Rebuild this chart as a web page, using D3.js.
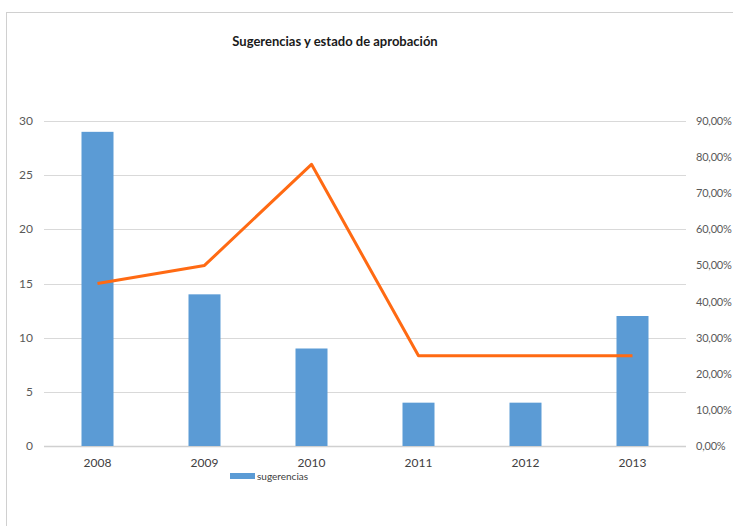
<!DOCTYPE html>
<html>
<head>
<meta charset="utf-8">
<script src="https://cdn.jsdelivr.net/npm/d3@7"></script>
<style>
  body { margin: 0; background: #fff; }
  svg { display: block; font-family: Lato, "Open Sans", sans-serif; }
</style>
</head>
<body>
<svg id="chart" width="733" height="526"></svg>
<script>
// Data
const years = ["2008", "2009", "2010", "2011", "2012", "2013"];
const sugerencias = [29, 14, 9, 4, 4, 12];
const aprobacion = [0.45, 0.50, 0.78, 0.25, 0.25, 0.25];
const leftTicks = [0, 5, 10, 15, 20, 25, 30];
const rightTicks = [0, 0.1, 0.2, 0.3, 0.4, 0.5, 0.6, 0.7, 0.8, 0.9];

const svg = d3.select("#chart");

// outer chart frame (runs off the right/bottom edges)
svg.append("rect")
  .attr("x", 6.5).attr("y", 12.5)
  .attr("width", 740).attr("height", 540)
  .attr("fill", "none")
  .attr("stroke", "#d0d0d0");

const plotLeft = 44, plotRight = 686, plotTop = 121, plotBottom = 446;

const x = d3.scaleBand().domain(years).range([plotLeft, plotRight]);
const yL = d3.scaleLinear().domain([0, 30]).range([plotBottom, plotTop]);
const yR = d3.scaleLinear().domain([0, 0.9]).range([plotBottom, plotTop]);

// gridlines
svg.append("g")
  .selectAll("line")
  .data(leftTicks)
  .join("line")
  .attr("x1", plotLeft).attr("x2", plotRight)
  .attr("y1", d => Math.round(yL(d)) + 0.5)
  .attr("y2", d => Math.round(yL(d)) + 0.5)
  .attr("stroke", d => d === 0 ? "#d0d0d0" : "#d9d9d9")
  .attr("stroke-width", d => d === 0 ? 1.5 : 1);

// left axis labels
svg.append("g")
  .selectAll("text")
  .data(leftTicks)
  .join("text")
  .attr("x", 33)
  .attr("y", d => yL(d) + 4)
  .attr("text-anchor", "end")
  .attr("font-size", 12)
  .attr("fill", "#595959")
  .text(d => d);

// right axis labels (kept just inside the window edge)
const pct = d => d3.format(".2f")(d * 100).replace(".", ",") + "%";
svg.append("g")
  .selectAll("text")
  .data(rightTicks)
  .join("text")
  .attr("x", 696)
  .attr("y", d => yR(d) + 4)
  .attr("text-anchor", "start")
  .attr("font-size", 11)
  .attr("letter-spacing", -0.2)
  .attr("fill", "#595959")
  .text(pct);

// bars
const barW = 32;
svg.append("g")
  .selectAll("rect")
  .data(sugerencias)
  .join("rect")
  .attr("x", (d, i) => x(years[i]) + x.bandwidth() / 2 - barW / 2)
  .attr("y", d => yL(d))
  .attr("width", barW)
  .attr("height", d => yL(0) - yL(d))
  .attr("fill", "#5b9bd5");

// approval line
const line = d3.line()
  .x((d, i) => x(years[i]) + x.bandwidth() / 2)
  .y(d => yR(d));
svg.append("path")
  .datum(aprobacion)
  .attr("d", line)
  .attr("fill", "none")
  .attr("stroke", "#ff6a13")
  .attr("stroke-width", 3)
  .attr("stroke-linejoin", "round");

// x labels
svg.append("g")
  .selectAll("text")
  .data(years)
  .join("text")
  .attr("x", d => x(d) + x.bandwidth() / 2)
  .attr("y", 467)
  .attr("text-anchor", "middle")
  .attr("font-size", 12)
  .attr("fill", "#404040")
  .text(d => d);

// legend
svg.append("rect")
  .attr("x", 230).attr("y", 473)
  .attr("width", 25).attr("height", 6)
  .attr("fill", "#5b9bd5");
svg.append("text")
  .attr("x", 257).attr("y", 480)
  .attr("font-size", 10)
  .attr("fill", "#404040")
  .text("sugerencias");

// title
svg.append("text")
  .attr("x", 335).attr("y", 46)
  .attr("text-anchor", "middle")
  .attr("font-size", 13)
  .attr("font-weight", "bold")
  .attr("fill", "#1a1a1a")
  .text("Sugerencias y estado de aprobación");
</script>
</body>
</html>
